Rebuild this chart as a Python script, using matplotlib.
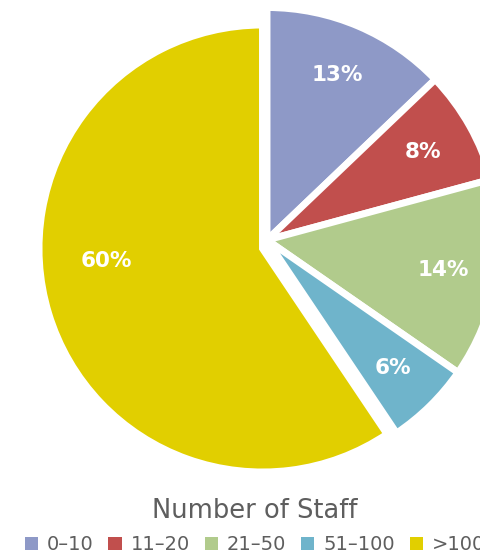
import numpy as np
import matplotlib
matplotlib.use("Agg")
import matplotlib.pyplot as plt
from matplotlib.patches import Patch

# share of organisations by number of staff (percent, as printed)
categories = ['0–10', '11–20', '21–50', '51–100', '>100']
shares = [13, 8, 14, 6, 60]
colors = ['#8E99C7', '#C14F4D', '#B1CB8C', '#6FB4CB', '#E1CF00']

plt.rcParams['font.family'] = ['DejaVu Sans']

W, H = 481, 556
fig = plt.figure(figsize=(W / 100, H / 100), dpi=100)
ax = fig.add_axes([0, 0, 1, 1])

# pie geometry in pixel units (y up)
center = (267, H - 240)
radius = 232.5
total = sum(shares)

wedges, texts, autotexts = ax.pie(
    shares, colors=colors, startangle=90, counterclock=False,
    center=center, radius=radius,
    autopct=lambda p: f'{round(p * total / 100)}%', pctdistance=0.77,
    wedgeprops=dict(edgecolor='white', linewidth=5),
    textprops=dict(color='white', fontsize=15.5, fontweight='bold'))

# the big slice sits a little smaller and offset down-left
big = wedges[-1]
big_center = (center[0] - 4.5, center[1] - 8.5)
big_radius = 223.5
big.set_center(big_center)
big.set_radius(big_radius)
ang = np.deg2rad(184.5)
autotexts[-1].set_position((big_center[0] + 0.70 * big_radius * np.cos(ang),
                            big_center[1] + 0.70 * big_radius * np.sin(ang)))

ax.set_xlim(0, W)
ax.set_ylim(0, H)
ax.set_aspect('equal')
ax.axis('off')

handles = [Patch(facecolor=c, edgecolor='none') for c in colors]
leg = fig.legend(handles, categories, loc='center', ncol=5,
                 bbox_to_anchor=(255 / W, 1 - 526 / H),
                 frameon=False, prop=dict(size=14),
                 title='Number of Staff',
                 title_fontproperties=dict(size=18.5),
                 labelcolor='#5e5e5e',
                 handlelength=0.67, handleheight=0.67, handletextpad=0.46,
                 columnspacing=0.78, labelspacing=0.6, borderpad=0.2)
leg.get_title().set_color('#5e5e5e')

fig.savefig('out.png', dpi=100)
